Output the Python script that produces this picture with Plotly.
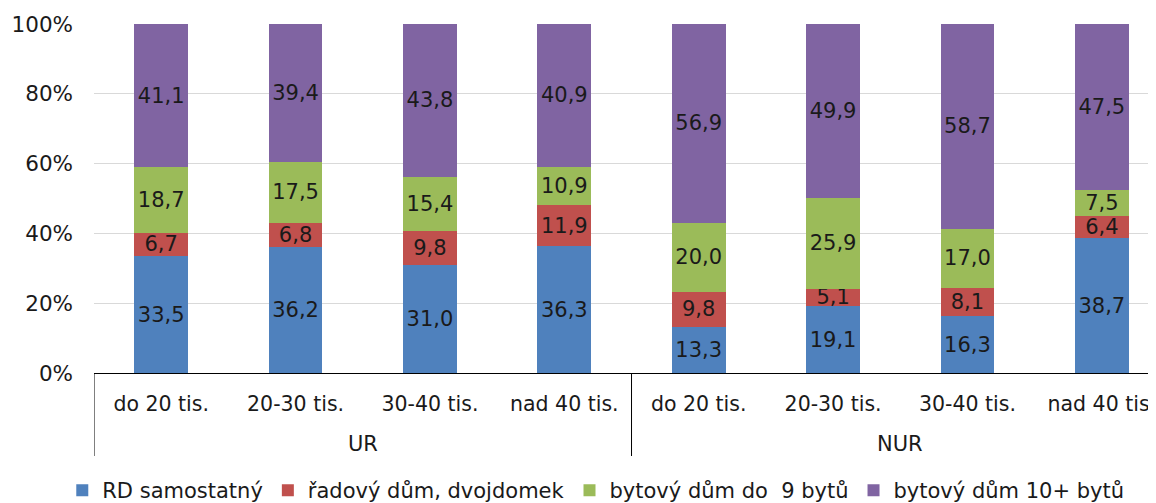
import plotly.graph_objects as go

# kategorie velikosti a skupiny
skupiny = ["UR", "NUR"]
velikost = ["do 20 tis.", "20-30 tis.", "30-40 tis.", "nad 40 tis."]

# podily typu domu (%)
rd_samostatny = [33.5, 36.2, 31.0, 36.3, 13.3, 19.1, 16.3, 38.7]
radovy_dum = [6.7, 6.8, 9.8, 11.9, 9.8, 5.1, 8.1, 6.4]
byt_do_9 = [18.7, 17.5, 15.4, 10.9, 20.0, 25.9, 17.0, 7.5]
byt_10_plus = [41.1, 39.4, 43.8, 40.9, 56.9, 49.9, 58.7, 47.5]

serie = [
    ("RD samostatný", rd_samostatny, "#4F81BD"),
    ("řadový dům, dvojdomek", radovy_dum, "#C0504D"),
    ("bytový dům do  9 bytů", byt_do_9, "#9BBB59"),
    ("bytový dům 10+ bytů", byt_10_plus, "#8064A2"),
]

font = "DejaVu Sans"
n = len(velikost)
pozice = list(range(n * len(skupiny)))
popisky = velikost * len(skupiny)

fig = go.Figure()
for nazev, hodnoty, barva in serie:
    fig.add_trace(go.Bar(
        x=pozice,
        y=hodnoty,
        name=nazev,
        marker=dict(color=barva, line=dict(width=0)),
        text=[f"{v:.1f}".replace(".", ",") for v in hodnoty],
        textposition="inside",
        insidetextanchor="middle",
        textangle=0,
        constraintext="none",
        textfont=dict(family=font, size=21, color="#1a1a1a"),
        cliponaxis=False,
    ))

# popisky skupin a svisle oddelovace
for i, sk in enumerate(skupiny):
    fig.add_annotation(
        x=i * n + (n - 1) / 2, xref="x",
        y=-71 / 349, yref="paper",
        text=sk, showarrow=False, yanchor="middle",
        font=dict(family=font, size=21, color="#1a1a1a"),
    )
for i in range(len(skupiny) + 1):
    fig.add_shape(
        type="line", xref="x", yref="paper",
        x0=i * n - 0.5, x1=i * n - 0.5, y0=0, y1=-83 / 349,
        line=dict(color="black", width=1),
    )

# stranka ma okraj 8 px, proto je graf o 8 px mensi
fig.update_layout(
    width=1148,
    height=495,
    barmode="stack",
    barnorm="percent",
    bargap=0.6,
    plot_bgcolor="white",
    paper_bgcolor="white",
    margin=dict(l=86, r=0, t=16, b=130, autoexpand=False),
    font=dict(family=font, size=21, color="#1a1a1a"),
    legend=dict(
        orientation="h",
        xref="container",
        x=0.512,
        xanchor="center",
        y=-0.337,
        yanchor="middle",
        font=dict(size=21),
        traceorder="normal",
        tracegroupgap=0,
    ),
    showlegend=True,
)

fig.update_xaxes(
    range=[-0.5, 7.403],
    tickvals=pozice,
    ticktext=popisky,
    tickangle=0,
    ticks="",
    showline=True,
    linecolor="black",
    linewidth=1,
    showgrid=False,
    zeroline=False,
    tickfont=dict(size=20.5),
    ticklabelstandoff=12,
    ticklabeloverflow="allow",
    automargin=False,
)

fig.update_yaxes(
    range=[0, 100],
    dtick=20,
    ticksuffix="%",
    showgrid=True,
    gridcolor="#d9d9d9",
    gridwidth=1,
    zeroline=False,
    showline=False,
    tickfont=dict(size=21.5),
    ticklabelstandoff=20,
    automargin=False,
)

fig.write_html("out.html")
